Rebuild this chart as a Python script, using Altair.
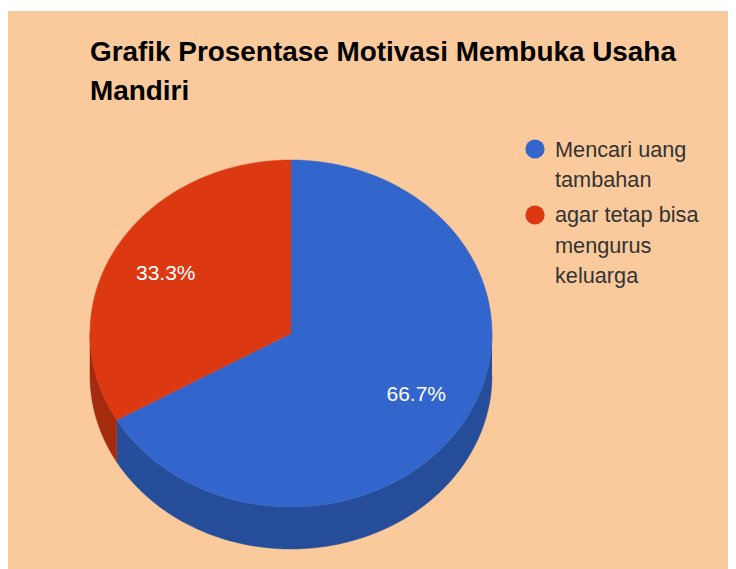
import math
import altair as alt
import pandas as pd

title_lines = ["Grafik Prosentase Motivasi Membuka Usaha", "Mandiri"]
categories = ["Mencari uang tambahan", "agar tetap bisa mengurus keluarga"]
legend_lines = [["Mencari uang", "tambahan"], ["agar tetap bisa", "mengurus", "keluarga"]]
shares = [66.7, 33.3]
labels = ["66.7%", "33.3%"]
top_colors = ["#3366CC", "#DC3912"]
side_colors = ["#264D99", "#A52B0E"]

W, H = 720, 561
BG = "#FACA9C"
CX, CY, RX, RY, DEPTH = 283, 325.5, 201, 173.5, 42 / 173.5
x_scale = alt.Scale(domain=[-CX / RX, (W - CX) / RX], range=[0, W], nice=False, zero=False)
y_scale = alt.Scale(domain=[CY / RY, -(H - CY) / RY], range=[0, H], nice=False, zero=False)


def arc_points(a0, a1, drop=0.0):
    n = max(2, int(abs(a1 - a0) / 2) + 1)
    return [
        (math.sin(math.radians(a0 + (a1 - a0) * k / (n - 1))),
         math.cos(math.radians(a0 + (a1 - a0) * k / (n - 1))) - drop)
        for k in range(n)
    ]


def polygon(points, color):
    df = pd.DataFrame(points, columns=["x", "y"])
    df["i"] = range(len(df))
    return alt.Chart(df).mark_line(fill=color, stroke=color, strokeWidth=0.5, interpolate="linear").encode(
        x=alt.X("x:Q", scale=x_scale, axis=None),
        y=alt.Y("y:Q", scale=y_scale, axis=None),
        order="i:Q",
    )


total = sum(shares)
layers = []

rect = alt.Chart(pd.DataFrame({"a": [0]})).mark_rect(color=BG).encode(
    x=alt.value(0), x2=alt.value(W), y=alt.value(3), y2=alt.value(H)
)
layers.append(rect)

# side walls: only the front half (90..270 degrees, clockwise from the top) is visible
start = 0.0
for share, color in zip(shares, side_colors):
    end = start + 360 * share / total
    a0, a1 = max(start, 90), min(end, 270)
    if a1 > a0:
        layers.append(polygon(arc_points(a0, a1) + arc_points(a1, a0, DEPTH), color))
    start = end

# top faces
start = 0.0
label_rows = []
for share, color, label in zip(shares, top_colors, labels):
    end = start + 360 * share / total
    layers.append(polygon([(0.0, 0.0)] + arc_points(start, end), color))
    mid = math.radians((start + end) / 2)
    label_rows.append({"x": 0.72 * math.sin(mid), "y": 0.70 * math.cos(mid), "t": label})
    start = end

layers.append(
    alt.Chart(pd.DataFrame(label_rows)).mark_text(
        font="Liberation Sans", fontSize=21, color="#FFFFFF", align="center", baseline="middle", dy=1
    ).encode(
        x=alt.X("x:Q", scale=x_scale, axis=None),
        y=alt.Y("y:Q", scale=y_scale, axis=None),
        text="t:N",
    )
)

# title
for line, ypos in zip(title_lines, [61, 100]):
    layers.append(
        alt.Chart(pd.DataFrame({"t": [line]})).mark_text(
            font="Liberation Sans", fontSize=27.9, fontWeight="bold", color="#000000",
            align="left", baseline="alphabetic"
        ).encode(x=alt.value(82), y=alt.value(ypos - 8), text="t:N")
    )

# legend
marker_y = [149, 215]
legend_y = [[157, 187], [222, 252.5, 282.5]]
for cat, lines, ys, my, color in zip(categories, legend_lines, legend_y, marker_y, top_colors):
    layers.append(
        alt.Chart(pd.DataFrame({"c": [cat]})).mark_point(
            shape="circle", filled=True, size=370, color=color, opacity=1
        ).encode(x=alt.value(527), y=alt.value(my - 8))
    )
    for line, ypos in zip(lines, ys):
        layers.append(
            alt.Chart(pd.DataFrame({"t": [line]})).mark_text(
                font="Liberation Sans", fontSize=21.7, color="#333333",
                align="left", baseline="alphabetic"
            ).encode(x=alt.value(547), y=alt.value(ypos - 8), text="t:N")
        )

chart = alt.layer(*layers).properties(
    width=W, height=H, padding=0, background="white",
    autosize=alt.AutoSizeParams(type="none"),
).configure_view(stroke=None)

chart.save("out.html", embed_options={"renderer": "svg", "actions": False})
